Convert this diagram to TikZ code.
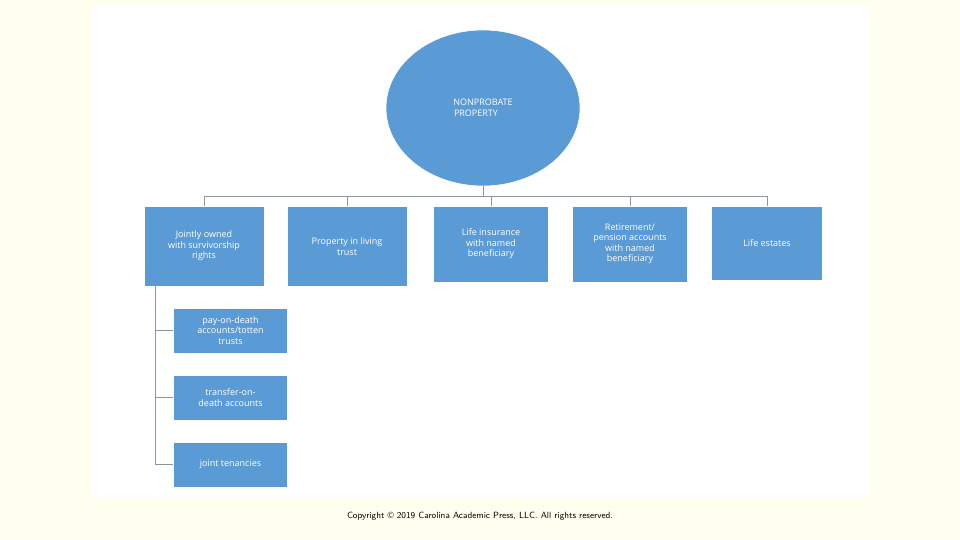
\documentclass[tikz,border=0pt]{standalone}
\usepackage{fontspec}
\newfontfamily\boxfont{Open Sans}
\usetikzlibrary{positioning,shapes.geometric}
\definecolor{PageCream}{RGB}{255,255,240}
\definecolor{BoxBlue}{RGB}{91,155,213}
\definecolor{LineGray}{RGB}{140,150,160}
\tikzset{
  blue box/.style={fill=BoxBlue, draw=white, line width=0.6pt, text=white, align=center,
    font=\boxfont\fontsize{9}{10.5}\selectfont, inner sep=1pt},
  link/.style={draw=LineGray, line width=0.8pt}
}
\begin{document}
\begin{tikzpicture}[x=1pt,y=-1pt]
\fill[PageCream] (0,0) rectangle (960,540);
\useasboundingbox (0,0) rectangle (960,540);
\fill[white] (92,5) rectangle (870,497);
% root
\node[blue box, ellipse, minimum width=194pt, minimum height=156pt, inner sep=0pt] (root) at (483,108) {NONPROBATE\\PROPERTY\hspace*{14pt}};
% top row
\node[blue box, minimum width=120pt, minimum height=80pt] (joint) at (204,246) {Jointly owned\\with survivorship\\rights};
\node[blue box, minimum width=120pt, minimum height=80pt] (living) at (347,246.5) {Property in living\\trust};
\node[blue box, minimum width=115pt, minimum height=76pt] (life) at (491,244) {Life insurance\\with named\\beneficiary};
\node[blue box, minimum width=115pt, minimum height=76pt] (pension) at (630,244) {Retirement/\\pension accounts\\with named\\beneficiary};
\node[blue box, minimum width=111pt, minimum height=74pt] (estates) at (767,243) {Life estates};
% sub items
\node[blue box, minimum width=114pt, minimum height=45pt] (pod) at (230.5,330.5) {pay-on-death\\accounts/totten\\trusts};
\node[blue box, minimum width=114pt, minimum height=45pt] (tod) at (230.5,397.5) {transfer-on-\\death accounts};
\node[blue box, minimum width=114pt, minimum height=45pt] (tenancy) at (230.5,464.5) {joint tenancies};
% connectors
\coordinate (bar) at (483,196);
\draw[link] (root.south) -- (bar);
\foreach \b in {joint,living,life,pension,estates}{
  \draw[link] (bar) -| (\b.north);
}
\coordinate (spine) at (155,286);
\foreach \s in {pod,tod,tenancy}{
  \draw[link] (spine) |- (\s.west);
}
\node[font=\sffamily\fontsize{9}{10}\selectfont] (copy) at (480,516) {Copyright \textcopyright{} 2019 Carolina Academic Press, LLC. All rights reserved.};
\end{tikzpicture}
\end{document}
